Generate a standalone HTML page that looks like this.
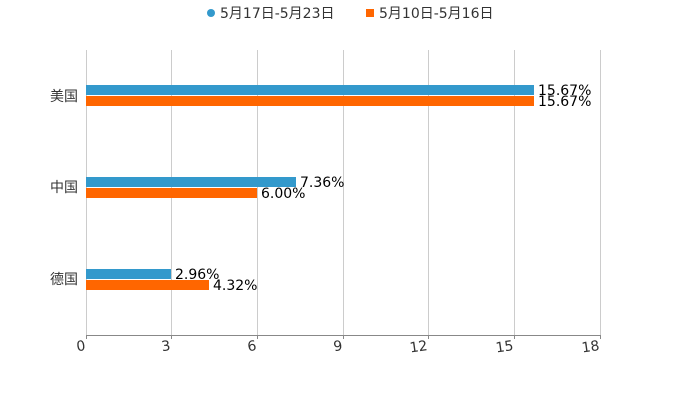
<!DOCTYPE html><html><head><meta charset="utf-8"><style>body{margin:0;background:#fff}</style></head><body>
<svg width="700" height="400" xmlns="http://www.w3.org/2000/svg" font-family="DejaVu Sans, Noto Sans CJK SC, sans-serif">
<g stroke="#ccc" stroke-width="1">
<line x1="86.5" y1="50" x2="86.5" y2="335"/><line x1="171.5" y1="50" x2="171.5" y2="335"/><line x1="257.5" y1="50" x2="257.5" y2="335"/><line x1="343.5" y1="50" x2="343.5" y2="335"/><line x1="428.5" y1="50" x2="428.5" y2="335"/><line x1="514.5" y1="50" x2="514.5" y2="335"/><line x1="600.5" y1="50" x2="600.5" y2="335"/>
</g>
<line x1="86" y1="335.5" x2="600" y2="335.5" stroke="#888"/>
<g stroke="#888"><line x1="86.5" y1="335" x2="86.5" y2="339"/><line x1="171.5" y1="335" x2="171.5" y2="339"/><line x1="257.5" y1="335" x2="257.5" y2="339"/><line x1="343.5" y1="335" x2="343.5" y2="339"/><line x1="428.5" y1="335" x2="428.5" y2="339"/><line x1="514.5" y1="335" x2="514.5" y2="339"/><line x1="600.5" y1="335" x2="600.5" y2="339"/></g>
<g font-size="14" fill="#333" text-anchor="end">
<text x="86" y="350" transform="rotate(-8 86 350)">0</text><text x="171" y="350" transform="rotate(-8 171 350)">3</text><text x="257" y="350" transform="rotate(-8 257 350)">6</text><text x="343" y="350" transform="rotate(-8 343 350)">9</text><text x="428" y="350" transform="rotate(-8 428 350)">12</text><text x="514" y="350" transform="rotate(-8 514 350)">15</text><text x="600" y="350" transform="rotate(-8 600 350)">18</text>
</g>
<g font-size="14" fill="#333" text-anchor="end">
<text x="78" y="101">美国</text><text x="78" y="192">中国</text><text x="78" y="284">德国</text>
</g>
<g fill="#3399cc"><rect x="86" y="85" width="448" height="10"/><rect x="86" y="177" width="210" height="10"/><rect x="86" y="269" width="85" height="10"/></g>
<g fill="#ff6600"><rect x="86" y="96" width="448" height="10"/><rect x="86" y="188" width="171" height="10"/><rect x="86" y="280" width="123" height="10"/></g>
<g font-size="14" fill="#000">
<text x="538" y="95">15.67%</text><text x="538" y="106">15.67%</text>
<text x="300" y="187">7.36%</text><text x="261" y="198">6.00%</text>
<text x="175" y="279">2.96%</text><text x="213" y="290">4.32%</text>
</g>
<circle cx="211" cy="13" r="4" fill="#3399cc"/>
<text x="220" y="18" font-size="14" fill="#333">5月17日-5月23日</text>
<rect x="366" y="9" width="8" height="8" fill="#ff6600"/>
<text x="379" y="18" font-size="14" fill="#333">5月10日-5月16日</text>
</svg>
</body></html>
